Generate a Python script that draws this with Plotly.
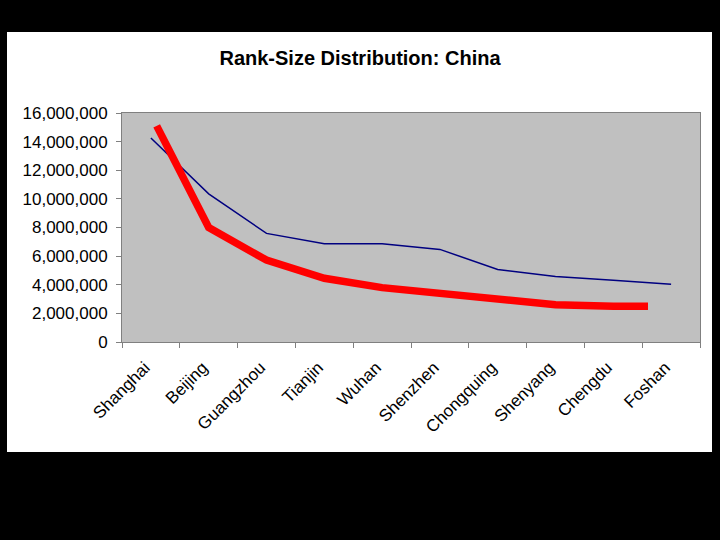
import plotly.graph_objects as go

cities = ["Shanghai", "Beijing", "Guangzhou", "Tianjin", "Wuhan", "Shenzhen",
          "Chongquing", "Shenyang", "Chengdu", "Foshan"]
actual_pop = [14250000, 10350000, 7590000, 6870000, 6870000, 6470000,
              5070000, 4570000, 4320000, 4040000]
# hand-drawn rank-size curve (positions along the category axis)
rank_x = [0.1, 1, 2, 3, 4, 5, 6, 7, 8, 8.6]
rank_pop = [15100000, 8000000, 5720000, 4450000, 3800000, 3420000,
            2920000, 2600000, 2500000, 2500000]
y_ticks = [0, 2000000, 4000000, 6000000, 8000000, 10000000, 12000000, 14000000, 16000000]

W, H = 720, 540
L, R, T, B = 122, 700, 113, 342  # plot area pixels

fig = go.Figure()
fig.add_trace(go.Scatter(x=cities, y=actual_pop, mode="lines",
                         line=dict(color="#000080", width=1.5), xaxis="x", yaxis="y",
                         showlegend=False, hoverinfo="skip"))
fig.add_trace(go.Scatter(x=rank_x, y=rank_pop, mode="lines",
                         line=dict(color="#FF0000", width=7.5), xaxis="x2", yaxis="y",
                         showlegend=False, hoverinfo="skip"))

def px_x(p):
    return (p - L) / (R - L)

def px_y(p):
    return (B - p) / (B - T)

black = dict(type="rect", xref="paper", yref="paper", fillcolor="black",
             line=dict(width=0), layer="above")
shapes = [
    dict(black, x0=px_x(0), x1=px_x(7), y0=px_y(H), y1=px_y(0)),
    dict(black, x0=px_x(712), x1=px_x(W), y0=px_y(H), y1=px_y(0)),
    dict(black, x0=px_x(0), x1=px_x(W), y0=px_y(32), y1=px_y(0)),
    dict(black, x0=px_x(0), x1=px_x(W), y0=px_y(H), y1=px_y(452)),
]

font_family = "Liberation Sans, Arial, sans-serif"
fig.update_layout(
    width=W, height=H,
    margin=dict(l=L, r=W - R, t=T, b=H - B),
    paper_bgcolor="white",
    plot_bgcolor="#C0C0C0",
    font=dict(family=font_family, color="black", size=17),
    title=dict(text="<b>Rank-Size Distribution: China</b>", x=0.5, xanchor="center",
               xref="container", y=1 - 58 / H, yref="container", yanchor="middle",
               font=dict(size=20, family=font_family, color="black")),
    xaxis=dict(type="category", categoryorder="array", categoryarray=cities,
               range=[-0.5, 9.5], tickson="boundaries", ticks="outside", ticklen=5,
               tickcolor="#808080", tickangle=-45, showline=True, linecolor="#808080",
               linewidth=1, mirror=True, showgrid=False, zeroline=False,
               tickfont=dict(size=17), ticklabelstandoff=8, ticklabelshift=-6),
    xaxis2=dict(overlaying="x", range=[-0.5, 9.5], visible=False, showgrid=False,
                zeroline=False),
    yaxis=dict(range=[0, 16000000], tickvals=y_ticks, tickformat=",d", ticks="outside",
               ticklen=5, tickcolor="#808080", showline=True, linecolor="#808080",
               linewidth=1, mirror=True, showgrid=False, zeroline=False,
               tickfont=dict(size=17), ticklabelstandoff=5),
    shapes=shapes,
)

fig.write_html("out.html", config={"displayModeBar": False},
               post_script="document.body.style.margin='0';document.body.style.padding='0';")
